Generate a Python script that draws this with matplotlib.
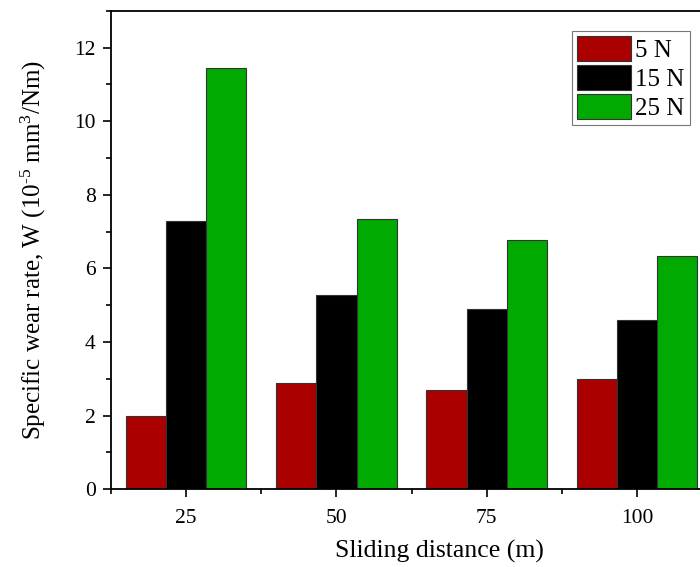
import numpy as np
import matplotlib
matplotlib.use('Agg')
import matplotlib.pyplot as plt
from matplotlib.ticker import MultipleLocator

plt.rcParams['font.family'] = ['Liberation Serif', 'DejaVu Serif']
plt.rcParams['mathtext.fontset'] = 'custom'
plt.rcParams['mathtext.rm'] = 'Liberation Serif'
plt.rcParams['mathtext.it'] = 'Liberation Serif:italic'

# data
distances = [25, 50, 75, 100]
loads = ['5 N', '15 N', '25 N']
wear_5N = [1.99, 2.89, 2.71, 3.00]
wear_15N = [7.30, 5.27, 4.90, 4.61]
wear_25N = [11.44, 7.34, 6.76, 6.33]
colors = ['#AA0000', '#000000', '#00AA00']

# the plot frame runs past the right edge of the picture
right_px = 767
fig = plt.figure(figsize=(7.0, 5.67), dpi=100)
ax = fig.add_axes([111 / 700, 1 - 489.3 / 567, (right_px - 111) / 700, 478.6 / 567])

bar_w = 25 / 150.3 * 40.2
x = np.array(distances, dtype=float)
series = [wear_5N, wear_15N, wear_25N]
for i, (vals, c, lab) in enumerate(zip(series, colors, loads)):
    ax.bar(x + (i - 1) * bar_w, vals, width=bar_w, color=c, edgecolor='#333333',
           linewidth=0.8, label=lab, zorder=2)

ax.set_xlim(12.5, 12.5 + (right_px - 111) / (150.3 / 25))
ax.set_ylim(0, 13)
ax.set_xticks(distances)
ax.xaxis.set_minor_locator(MultipleLocator(12.5))
ax.yaxis.set_major_locator(MultipleLocator(2))
ax.yaxis.set_minor_locator(MultipleLocator(1))
ax.tick_params(which='major', direction='out', length=6, width=1.2, labelsize=15.5,
               top=False, right=False)
ax.tick_params(which='minor', direction='out', length=3.5, width=1.2,
               top=False, right=False)
ax.tick_params(axis='x', pad=8)
ax.tick_params(axis='y', pad=5)

for s in ['left', 'bottom', 'top']:
    ax.spines[s].set_linewidth(1.3)
ax.spines['right'].set_visible(False)

ax.set_xlabel('Sliding distance (m)', fontsize=18.5, labelpad=9)
ax.set_ylabel(r'Specific wear rate, W (10$^{\text{-5}}$ mm$^{\mathrm{3}}$/Nm)', fontsize=18,
              labelpad=19)

legend_w = 601
leg = ax.legend(loc='upper left',
                bbox_to_anchor=((572 - 111) / (right_px - 111), 1 - (31 - 10.7) / 478.6),
                fontsize=18, frameon=True, fancybox=False, edgecolor='#555555',
                handlelength=2.15, handleheight=1.15, labelspacing=0.12,
                borderpad=0.2, handletextpad=0.18, borderaxespad=0)
leg.get_frame().set_linewidth(0.8)

fig.savefig('out.png', dpi=100)
